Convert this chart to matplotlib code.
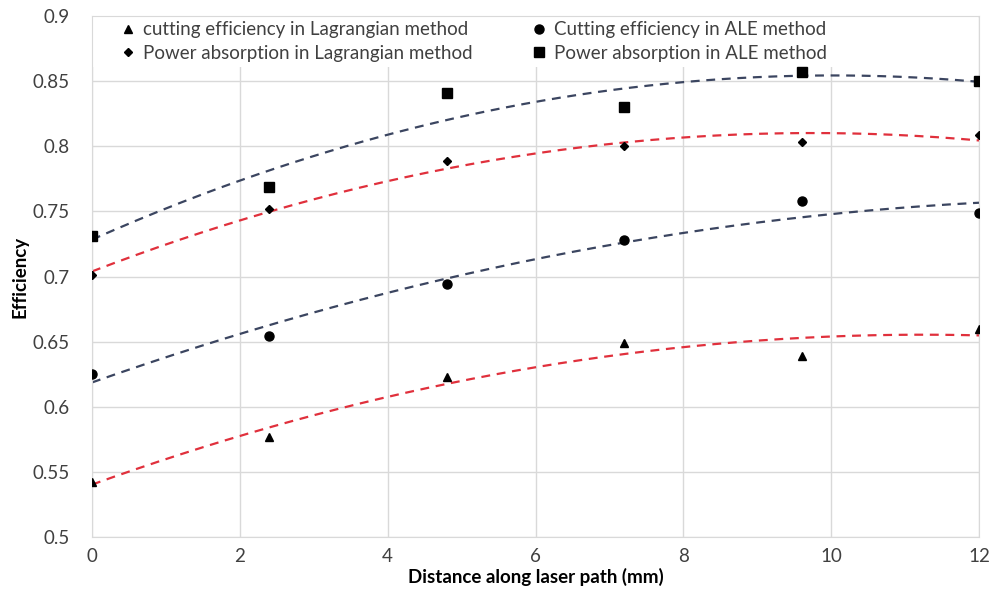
import numpy as np
import matplotlib
matplotlib.use('Agg')
import matplotlib.pyplot as plt
from matplotlib.patches import Rectangle

plt.rcParams['font.family'] = ['Lato', 'DejaVu Sans']

# distance along laser path (mm)
distance = [0, 2.4, 4.8, 7.2, 9.6, 12]

# efficiencies
cut_lag = [0.542, 0.577, 0.623, 0.649, 0.639, 0.660]
cut_ale = [0.625, 0.654, 0.694, 0.728, 0.758, 0.749]
pow_lag = [0.701, 0.752, 0.789, 0.800, 0.803, 0.809]
pow_ale = [0.731, 0.769, 0.841, 0.830, 0.857, 0.850]

red = '#E0303C'
navy = '#3B4560'

fig = plt.figure(figsize=(10.03, 5.94), dpi=100)
ax = fig.add_axes([0.0917, 0.096, 0.8844, 0.877])

# polynomial (2nd order) trendlines like the Excel ones
xs = np.linspace(0, 12, 200)
for ys, col in [(cut_lag, red), (cut_ale, navy), (pow_lag, red), (pow_ale, navy)]:
    coef = np.polyfit(distance, ys, 2)
    ax.plot(xs, np.polyval(coef, xs), color=col, lw=1.6, dashes=(4, 3), zorder=2)

h1, = ax.plot(distance, cut_lag, '^', color='black', ms=6, ls='none', zorder=3,
              label='cutting efficiency in Lagrangian method')
h2, = ax.plot(distance, cut_ale, 'o', color='black', ms=6.5, ls='none', zorder=3,
              label='Cutting efficiency in ALE method')
h3, = ax.plot(distance, pow_lag, 'D', color='black', ms=4.5, ls='none', zorder=3,
              label='Power absorption in Lagrangian method')
h4, = ax.plot(distance, pow_ale, 's', color='black', ms=6.5, ls='none', zorder=3,
              label='Power absorption in ALE method')

ax.set_xlim(0, 12)
ax.set_ylim(0.5, 0.9)
ax.set_xticks([0, 2, 4, 6, 8, 10, 12])
ax.set_yticks(np.arange(0.5, 0.91, 0.05))
ax.set_yticklabels(['0.5', '0.55', '0.6', '0.65', '0.7', '0.75', '0.8', '0.85', '0.9'])
ax.tick_params(axis='both', length=0, labelsize=13.5, colors='#404040')
ax.tick_params(axis='y', pad=16)
ax.tick_params(axis='x', pad=8)
ax.grid(True, color='#D9D9D9', lw=1)
ax.set_axisbelow(True)
for s in ax.spines.values():
    s.set_color('#D9D9D9')

# white legend band across the top of the plot area
ax.add_patch(Rectangle((0.001, 0.903), 0.998, 0.096, transform=ax.transAxes,
                       facecolor='white', edgecolor='none', zorder=1))

ax.set_xlabel('Distance along laser path (mm)', fontsize=13.5, fontweight='bold', labelpad=2)
ax.set_ylabel('Efficiency', fontsize=13.5, fontweight='bold', labelpad=3)

leg = ax.legend(handles=[h1, h3, h2, h4], ncol=2, loc='upper left',
                bbox_to_anchor=(0.034, 0.99),
                fontsize=13.5, frameon=False, handlelength=0.6, handletextpad=0.5,
                borderpad=0.0, labelspacing=0.36, borderaxespad=0.0,
                columnspacing=3.27)
for t in leg.get_texts():
    t.set_color('#404040')

plt.savefig('out.png', dpi=100)
